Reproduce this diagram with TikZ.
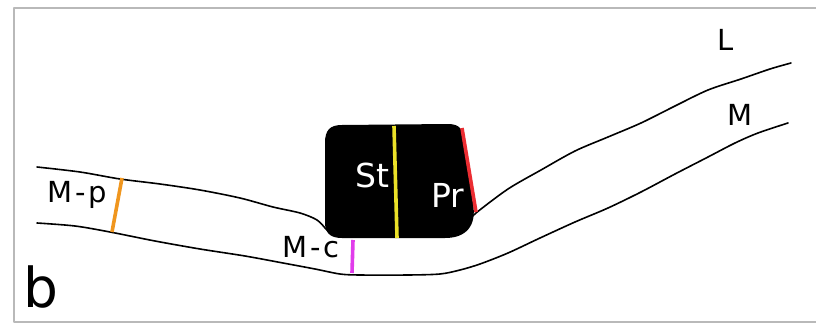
\documentclass[tikz,border=0pt]{standalone}
\usepackage{fontspec}
\setmainfont{DejaVu Sans}
\usepackage{xcolor}
\definecolor{cutorange}{RGB}{240,150,30}
\definecolor{cutyellow}{RGB}{235,225,40}
\definecolor{cutred}{RGB}{235,45,50}
\definecolor{cutpink}{RGB}{225,60,235}
\definecolor{framegray}{RGB}{185,185,185}
\newcommand{\dash}{\kern2.5pt-\kern2.5pt}

\begin{document}
\begin{tikzpicture}[x=1pt,y=-1pt,line join=round,line cap=round]
  \tikzstyle{wall}=[draw=black,line width=1.6pt]
  \tikzstyle{cut}=[line width=3.6pt,line cap=butt]
  \tikzstyle{lab}=[inner sep=0pt,anchor=base,font=\fontsize{29}{29}\selectfont]
  \tikzstyle{inlab}=[inner sep=0pt,anchor=base,text=white,font=\fontsize{33}{33}\selectfont]

  \useasboundingbox (0,0) rectangle (816,324);
  \draw[framegray,line width=1.8pt] (816,8) -- (14,8) -- (14,322) -- (816,322);

  % the lump sitting on the wall
  \fill[black] (342,125) -- (448,124) .. controls (460,124) and (463,130) .. (464,139)
    -- (473,203) .. controls (477,226) and (466,238) .. (445,238)
    -- (342,238) .. controls (329,238) and (325,232) .. (325,222)
    -- (325,143) .. controls (325,130) and (330,125) .. (342,125) -- cycle;

  % upper wall line (L side)
  \draw[wall] plot[smooth,tension=0.5] coordinates {(37,167) (80,172) (120,179) (160,184) (200,190)
    (240,198) (273,207) (300,213) (317,220) (327,230) (333,234)};
  \draw[wall] plot[smooth,tension=0.5] coordinates {(470,220) (476,213) (508,189) (541,170)
    (575,151) (608,137) (641,123) (675,106) (708,90) (741,79) (770,69) (791,63)};
  % lower wall line (M side)
  \draw[wall] plot[smooth,tension=0.5] coordinates {(37,223) (75,226) (110,232) (155,241) (200,249)
    (245,256) (283,263) (315,269) (340,274) (360,275) (408,275) (440,274) (460,270)
    (480,264) (508,253) (540,238) (575,222) (608,208) (641,192) (675,174) (708,157)
    (735,143) (758,133) (788,123)};

  % section cuts
  \draw[cut,cutorange] (122,178) -- (112,232);
  \draw[cut,cutyellow] (394,126) -- (397,238);
  \draw[cut,cutred] (462,128) -- (476,212);
  \draw[cut,cutpink] (353,240) -- (352,273);

  \node[lab]   (mp) at (77,202)  {M\dash p};
  \node[lab]   (mc) at (311,257) {M\dash c};
  \node[lab]   (l)  at (726,50)  {L};
  \node[lab]   (m)  at (740,125) {M};
  \node[inlab] (st) at (372,187) {St};
  \node[inlab] (pr) at (448,207) {Pr};
  \node[inner sep=0pt,anchor=base,font=\fontsize{55}{55}\selectfont] (b) at (41,307) {b};
\end{tikzpicture}
\end{document}
